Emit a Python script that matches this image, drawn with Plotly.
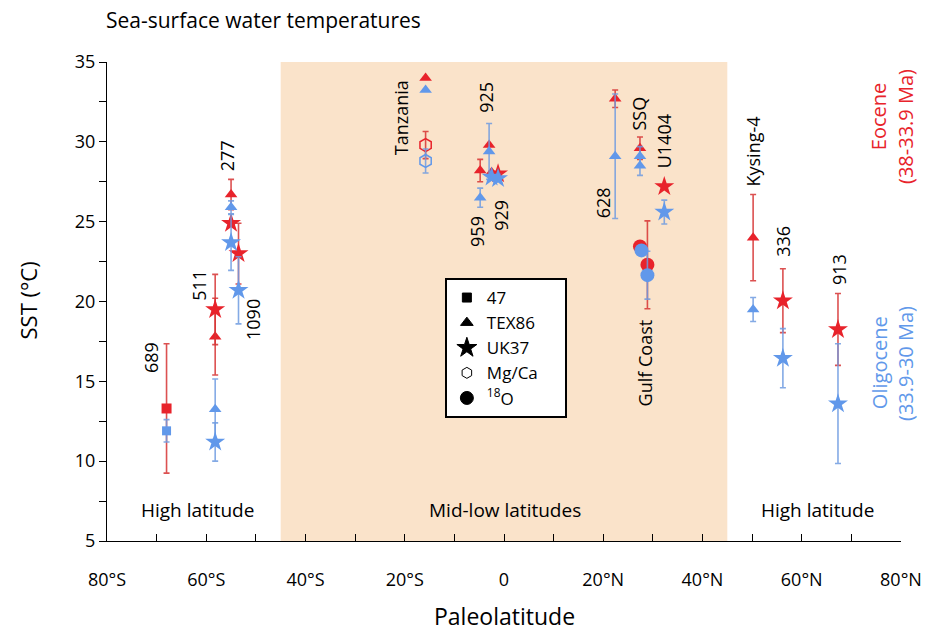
import plotly.graph_objects as go

# ---- data: paleolatitude (deg, S negative), SST (deg C), 1-sigma error ----
# Clumped isotopes (square)
eo_d47_lat = [-68.0]
eo_d47_sst = [13.3]
eo_d47_err = [4.05]
ol_d47_lat = [-68.0]
ol_d47_sst = [11.9]
ol_d47_err = [0.7]

# TEX86 (triangle): 511, 277, Tanzania, 925, 959, 929, 628, SSQ, Kysing-4
eo_tex_lat = [-58.2, -55.0, -15.8, -3.0, -4.8, -2.5, 22.4, 27.4, 50.2]
eo_tex_sst = [17.8, 26.7, 34.0, 29.8, 28.2, 28.1, 32.7, 29.6, 24.0]
eo_tex_err = [2.4, 0.95, 0.0, 0.0, 0.7, 0.0, 0.55, 0.7, 2.7]
# TEX86 Oligocene: 511, 277, Tanzania, 925, 959, 628, SSQ, SSQ, Kysing-4
ol_tex_lat = [-58.2, -55.0, -15.8, -3.0, -4.8, 22.4, 27.4, 27.4, 50.2]
ol_tex_sst = [13.25, 25.9, 33.25, 29.4, 26.5, 29.1, 29.1, 28.5, 19.5]
ol_tex_err = [1.9, 0.4, 0.0, 1.75, 0.6, 3.9, 0.6, 0.6, 0.75]

# UK37 (star): 511, 277, 1090, 929, U1404, 336, 913
eo_uk_lat = [-58.2, -55.0, -53.5, -1.2, 32.3, 56.2, 67.3]
eo_uk_sst = [19.5, 24.9, 23.0, 28.0, 27.2, 20.05, 18.25]
eo_uk_err = [2.2, 0.0, 1.9, 0.0, 0.0, 2.0, 2.25]
# UK37 Oligocene: 511, 277, 1090, 929, 929, U1404, 336, 913
ol_uk_lat = [-58.2, -55.0, -53.5, -2.5, -1.2, 32.3, 56.2, 67.3]
ol_uk_sst = [11.2, 23.7, 20.7, 27.8, 27.7, 25.6, 16.45, 13.6]
ol_uk_err = [1.2, 1.75, 2.1, 0.0, 0.0, 0.75, 1.85, 3.75]

# Mg/Ca (open hexagon): Tanzania
eo_mg_lat = [-15.8]
eo_mg_sst = [29.8]
eo_mg_err = [0.85]
ol_mg_lat = [-15.8]
ol_mg_sst = [28.8]
ol_mg_err = [0.75]

# d18O (circle): Gulf Coast
eo_o18_lat = [27.4, 28.9]
eo_o18_sst = [23.45, 22.3]
eo_o18_err = [0.0, 2.75]
ol_o18_lat = [27.7, 28.9]
ol_o18_sst = [23.2, 21.65]
ol_o18_err = [0.0, 1.5]

# site labels
site_names = ["689", "511", "277", "1090", "Tanzania", "925", "959", "929",
              "628", "SSQ", "U1404", "Gulf Coast", "Kysing-4", "336", "913"]
site_lat = [-71.0, -61.6, -55.8, -50.6, -20.7, -3.7, -5.3, -0.5,
            19.9, 27.3, 32.3, 28.5, 50.2, 56.2, 67.4]
site_y = [16.5, 21.0, 29.1, 18.9, 31.5, 32.8, 24.4, 25.4,
          26.2, 31.8, 30.05, 16.15, 29.4, 23.8, 22.0]

# axis ticks
x_tickvals = [-80, -60, -40, -20, 0, 20, 40, 60, 80]
x_ticktext = ["80°S", "60°S", "40°S", "20°S", "0", "20°N", "40°N", "60°N", "80°N"]
y_tickvals = [5, 10, 15, 20, 25, 30, 35]

RED = "#E8232B"
BLUE = "#6198EA"
RED_BAR = "rgba(214,50,50,0.85)"
BLUE_BAR = "rgba(110,155,225,0.85)"
FONT = "Open Sans"

# plot-area geometry in pixels (used to place paper-referenced text)
L, R, T, B = 107, 906, 62, 541


def px_x(px):
    return (px - L) / (R - L)


def px_y(py):
    return (B - py) / (B - T)


fig = go.Figure()


def add_series(lat, sst, err, symbol, size, color, bar):
    fig.add_trace(go.Scatter(
        x=lat, y=sst, mode="markers", showlegend=False, hoverinfo="x+y",
        marker=dict(symbol=symbol, size=size, color=color,
                    line=dict(width=0 if "open" not in symbol else 1.5, color=color)),
        error_y=dict(type="data", array=err, symmetric=True, color=bar,
                     thickness=1.6, width=3),
    ))


# Eocene (red)
add_series(eo_d47_lat, eo_d47_sst, eo_d47_err, "square", 10, RED, RED_BAR)
add_series(eo_tex_lat, eo_tex_sst, eo_tex_err, "triangle-up", 11, RED, RED_BAR)
add_series(eo_uk_lat, eo_uk_sst, eo_uk_err, "star", 15, RED, RED_BAR)
add_series(eo_mg_lat, eo_mg_sst, eo_mg_err, "hexagon-open", 13, RED, RED_BAR)
add_series(eo_o18_lat, eo_o18_sst, eo_o18_err, "circle", 14, RED, RED_BAR)
# Oligocene (blue)
add_series(ol_d47_lat, ol_d47_sst, ol_d47_err, "square", 9, BLUE, BLUE_BAR)
add_series(ol_tex_lat, ol_tex_sst, ol_tex_err, "triangle-up", 11, BLUE, BLUE_BAR)
add_series(ol_uk_lat, ol_uk_sst, ol_uk_err, "star", 15, BLUE, BLUE_BAR)
add_series(ol_mg_lat, ol_mg_sst, ol_mg_err, "hexagon-open", 13, BLUE, BLUE_BAR)
add_series(ol_o18_lat, ol_o18_sst, ol_o18_err, "circle", 14, BLUE, BLUE_BAR)

# legend entries (proxy symbols in black); trailing spaces widen the box
legend_items = [("47", "square", 9), ("TEX86", "triangle-up", 11), ("UK37", "star", 15),
                ("Mg/Ca&nbsp;&nbsp;&nbsp;&nbsp;&nbsp;", "hexagon-open", 11),
                ("<sup>18</sup>O", "circle", 13)]
for name, sym, sz in legend_items:
    fig.add_trace(go.Scatter(
        x=[None], y=[None], mode="markers", name=name,
        marker=dict(symbol=sym, size=sz, color="black", line=dict(width=1, color="black")),
    ))

# mid-low latitude band
fig.add_shape(type="rect", xref="x", yref="y", x0=-45, x1=45, y0=5, y1=35,
              fillcolor="#FAE3CA", line=dict(width=0), layer="below")

annotations = []
for name, x, y in zip(site_names, site_lat, site_y):
    annotations.append(dict(x=x, y=y, xref="x", yref="y", text=name, textangle=-90,
                            showarrow=False, font=dict(size=18, color="black")))

for text, x in [("High latitude", -61.8), ("Mid-low latitudes", 0.1), ("High latitude", 63.2)]:
    annotations.append(dict(x=x, y=6.95, xref="x", yref="y", text=text, showarrow=False,
                            font=dict(size=19, color="black")))

# epoch labels on the right
for text, px, py, col in [("Eocene", 884, 117, RED), ("(38-33.9 Ma)", 910, 126, RED),
                          ("Oligocene", 884, 363, BLUE), ("(33.9-30 Ma)", 910, 363, BLUE)]:
    annotations.append(dict(x=px_x(px), y=px_y(py), xref="paper", yref="paper",
                            text=text, textangle=-90, showarrow=False,
                            xanchor="center", yanchor="middle",
                            font=dict(size=20, color=col)))

# titles
annotations.append(dict(x=px_x(104), y=px_y(20), xref="paper", yref="paper",
                        text="Sea-surface water temperatures", showarrow=False,
                        xanchor="left", yanchor="middle", font=dict(size=21, color="black")))
annotations.append(dict(x=px_x(28), y=px_y(300), xref="paper", yref="paper",
                        text="SST (°C)", textangle=-90, showarrow=False,
                        xanchor="center", yanchor="middle", font=dict(size=22, color="black")))
annotations.append(dict(x=px_x(507), y=px_y(616), xref="paper", yref="paper",
                        text="Paleolatitude", showarrow=False,
                        xanchor="center", yanchor="middle", font=dict(size=23, color="black")))

fig.update_layout(
    width=934, height=632,
    margin=dict(l=L, r=934 - R, t=T, b=632 - B),
    paper_bgcolor="white", plot_bgcolor="white",
    font=dict(family=FONT, size=17, color="black"),
    annotations=annotations,
    showlegend=True,
    legend=dict(x=px_x(447), y=px_y(278), xanchor="left", yanchor="top",
                bgcolor="white", bordercolor="black", borderwidth=2,
                font=dict(size=17), itemwidth=30, tracegroupgap=0),
)

fig.update_xaxes(
    range=[-80, 80], showgrid=False, zeroline=False,
    showline=True, linecolor="black", linewidth=1,
    tickmode="array", tickvals=x_tickvals, ticktext=x_ticktext,
    ticks="inside", ticklen=7, tickcolor="black",
    ticklabelstandoff=22, tickfont=dict(size=18),
    minor=dict(dtick=10, ticks="inside", ticklen=7, tickcolor="black"),
)
fig.update_yaxes(
    range=[5, 35], showgrid=False, zeroline=False,
    showline=True, linecolor="black", linewidth=1,
    tickmode="array", tickvals=y_tickvals,
    ticks="outside", ticklen=7, tickcolor="black",
    tickfont=dict(size=18),
    minor=dict(dtick=2.5, ticks="outside", ticklen=7, tickcolor="black"),
)

fig.write_html("out.html")
